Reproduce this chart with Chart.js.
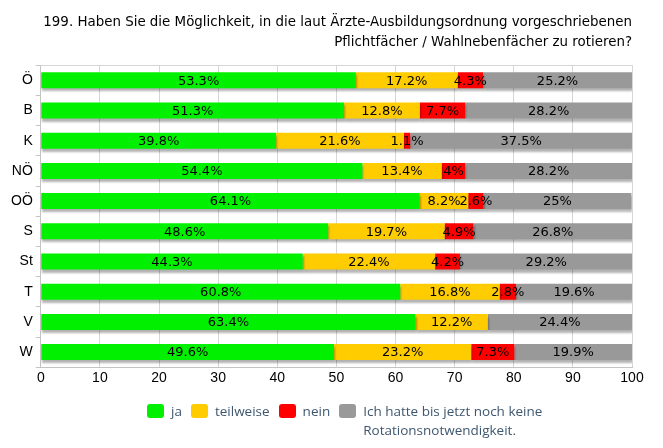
<!DOCTYPE html>
<html><head><meta charset="utf-8">
<script src="https://cdn.jsdelivr.net/npm/chart.js@4/dist/chart.umd.min.js"></script>
<style>
html,body{margin:0;padding:0;background:#fff;}
#wrap{position:relative;width:663px;height:448px;}
#legend{position:absolute;left:147px;top:402px;display:flex;align-items:flex-start;font-family:"Open Sans";font-size:13.5px;line-height:19px;color:#3e576f;}
.item{display:flex;align-items:flex-start;margin-right:9px}
.box{width:17px;height:14px;border-radius:3px;margin-right:7px;margin-top:2px;flex:none}
</style></head>
<body>
<div id="wrap">
<canvas id="c" width="663" height="448"></canvas>
<div id="legend"></div>
</div>
<script>
const categories = ['Ö','B','K','NÖ','OÖ','S','St','T','V','W'];
const ja        = [53.3, 51.3, 39.8, 54.4, 64.1, 48.6, 44.3, 60.8, 63.4, 49.6];
const teilweise = [17.2, 12.8, 21.6, 13.4,  8.2, 19.7, 22.4, 16.8, 12.2, 23.2];
const nein      = [ 4.3,  7.7,  1.1,  4,    2.6,  4.9,  4.2,  2.8,  0,    7.3];
const keine     = [25.2, 28.2, 37.5, 28.2, 25,   26.8, 29.2, 19.6, 24.4, 19.9];
const seriesNames = ['ja','teilweise','nein','Ich hatte bis jetzt noch keine Rotationsnotwendigkeit.'];
const legendLines = [['ja'],['teilweise'],['nein'],['Ich hatte bis jetzt noch keine','Rotationsnotwendigkeit.']];
const colors = ['#00f000','#ffcc00','#ff0000','#999999'];
const titleLines = ['199. Haben Sie die Möglichkeit, in die laut Ärzte-Ausbildungsordnung vorgeschriebenen','Pflichtfächer / Wahlnebenfächer zu rotieren?'];

const values = [ja, teilweise, nein, keine];

const shadowPlugin = {
  id: 'shadowAndLabels',
  beforeDatasetsDraw(chart) {
    const ctx = chart.ctx;
    ctx.save();
    ctx.shadowColor = 'rgba(0,0,0,0.3)';
    ctx.shadowOffsetX = 1;
    ctx.shadowOffsetY = 3;
    ctx.shadowBlur = 2;
  },
  afterDatasetsDraw(chart) {
    const ctx = chart.ctx;
    ctx.restore();
    ctx.save();
    ctx.font = '13px "DejaVu Sans"';
    ctx.fillStyle = '#000';
    ctx.textAlign = 'center';
    ctx.textBaseline = 'middle';
    chart.data.datasets.forEach((ds, i) => {
      const meta = chart.getDatasetMeta(i);
      meta.data.forEach((el, j) => {
        const v = ds.data[j];
        if (!v) return;
        const p = el.getProps(['x','y','base'], true);
        ctx.fillText(v + '%', (p.x + p.base) / 2, p.y + 1);
      });
    });
    ctx.restore();
  },
  beforeDraw(chart) {
    const a = chart.chartArea, ctx = chart.ctx;
    ctx.save();
    ctx.strokeStyle = '#d6d6d6';
    ctx.lineWidth = 1;
    ctx.beginPath();
    ctx.moveTo(a.left, Math.round(a.top) + 0.5);
    ctx.lineTo(a.right, Math.round(a.top) + 0.5);
    ctx.stroke();
    ctx.restore();
  }
};

new Chart(document.getElementById('c'), {
  type: 'bar',
  data: {
    labels: categories,
    datasets: values.map((v, i) => ({
      label: seriesNames[i],
      data: v,
      backgroundColor: colors[i],
      borderWidth: 0,
      barPercentage: 0.53,
      categoryPercentage: 1
    }))
  },
  options: {
    indexAxis: 'y',
    responsive: false,
    animation: false,
    layout: { padding: { left: 8, right: 31, top: 0, bottom: 58 } },
    plugins: {
      legend: { display: false },
      tooltip: { enabled: false },
      title: {
        display: true,
        text: titleLines,
        align: 'end',
        color: '#000',
        font: { family: 'DejaVu Sans', size: 13.4, weight: 'normal', lineHeight: 1.5 },
        padding: { top: 12, bottom: 13 }
      }
    },
    scales: {
      x: {
        stacked: true,
        min: 0, max: 100,
        ticks: { stepSize: 10, color: '#000', font: { family: 'Liberation Sans', size: 14 }, padding: 3, maxRotation: 0 },
        grid: { color: '#d6d6d6', drawTicks: false },
        border: { color: '#c4c4c4' }
      },
      y: {
        stacked: true,
        ticks: { color: '#000', font: { family: 'Liberation Sans', size: 14 }, padding: 3 },
        grid: { offset: true, drawOnChartArea: false, tickLength: 5, color: '#c4c4c4' },
        border: { color: '#c4c4c4' }
      }
    }
  },
  plugins: [shadowPlugin]
});

const lg = document.getElementById('legend');
legendLines.forEach((lines, i) => {
  const it = document.createElement('div'); it.className = 'item';
  const b = document.createElement('div'); b.className = 'box'; b.style.background = colors[i];
  const t = document.createElement('div'); t.innerHTML = lines.join('<br>');
  it.appendChild(b); it.appendChild(t); lg.appendChild(it);
});
</script>
</body></html>
